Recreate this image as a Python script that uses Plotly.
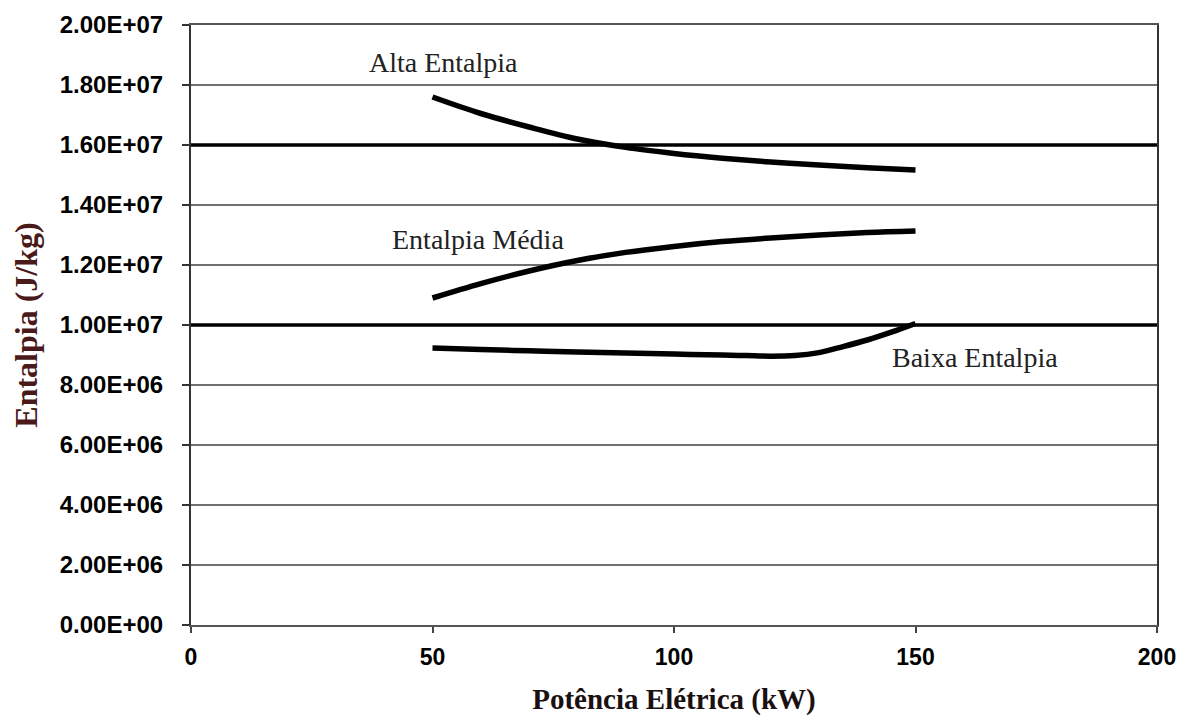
import plotly.graph_objects as go

# ---- data ----
x_alta = [50, 60, 70, 80, 90, 100, 110, 120, 130, 140, 150]
y_alta = [17.6e6, 17.05e6, 16.6e6, 16.2e6, 15.92e6, 15.72e6, 15.56e6, 15.43e6, 15.33e6, 15.24e6, 15.17e6]

x_media = [50, 60, 70, 80, 90, 100, 110, 120, 130, 140, 150]
y_media = [10.9e6, 11.38e6, 11.8e6, 12.15e6, 12.42e6, 12.62e6, 12.78e6, 12.9e6, 13.0e6, 13.08e6, 13.13e6]

x_baixa = [50, 60, 70, 80, 90, 100, 110, 115, 120, 125, 130, 135, 140, 145, 150]
y_baixa = [9.23e6, 9.18e6, 9.14e6, 9.1e6, 9.07e6, 9.03e6, 9.0e6, 8.98e6, 8.96e6, 8.98e6, 9.08e6, 9.28e6, 9.5e6, 9.76e6, 10.05e6]

y_ticks = [0, 2e6, 4e6, 6e6, 8e6, 10e6, 12e6, 14e6, 16e6, 18e6, 20e6]
y_ticktext = [f"{v:.2E}" for v in y_ticks]
x_ticks = [0, 50, 100, 150, 200]
highlight_levels = [10e6, 16e6]

labels = [
    ("Alta Entalpia", 36.5, 18.75e6),
    ("Entalpia Média", 41.2, 12.85e6),
    ("Baixa Entalpia", 144.8, 8.92e6),
]

# ---- figure ----
fig = go.Figure()
for xs, ys in [(x_alta, y_alta), (x_media, y_media), (x_baixa, y_baixa)]:
    fig.add_trace(go.Scatter(x=xs, y=ys, mode="lines",
                             line=dict(color="black", width=5.5, shape="spline"),
                             showlegend=False, hoverinfo="skip"))

for lvl in highlight_levels:
    fig.add_shape(type="line", xref="paper", x0=0, x1=1, yref="y", y0=lvl, y1=lvl,
                  line=dict(color="black", width=3.5), layer="above")

for text, lx, ly in labels:
    fig.add_annotation(x=lx, y=ly, text=text, showarrow=False, xanchor="left",
                       font=dict(family="Liberation Serif", size=28, color="#222222"))

fig.update_layout(
    width=1172, height=708,
    margin=dict(l=183, r=23, t=17, b=91, autoexpand=False),
    paper_bgcolor="white", plot_bgcolor="white",
    xaxis=dict(range=[0, 200], tickvals=x_ticks, ticks="outside", ticklen=6,
               tickcolor="#444444", tickwidth=2, ticklabelstandoff=4, automargin=False,
               showgrid=False, zeroline=False, showline=True, linecolor="#555555",
               linewidth=2, mirror=True,
               tickfont=dict(family="Liberation Sans", size=23, color="black", weight="bold"),
               title=dict(text="Potência Elétrica (kW)", standoff=32,
                          font=dict(family="Liberation Serif", size=29, color="#1a1010",
                                    weight="bold"))),
    yaxis=dict(range=[0, 20e6], tickvals=y_ticks, ticktext=y_ticktext, ticks="outside",
               ticklen=7, tickcolor="#333333", tickwidth=2, ticklabelstandoff=14,
               automargin=False,
               showgrid=True, gridcolor="#707070", gridwidth=2.2,
               zeroline=False, showline=True, linecolor="#333333", linewidth=2, mirror=True,
               tickfont=dict(family="Liberation Sans", size=24, color="black", weight="bold"),
               title=dict(text="Entalpia (J/kg)", standoff=20,
                          font=dict(family="Liberation Serif", size=32, color="#4a1a1a",
                                    weight="bold"))),
)

fig.write_html("out.html")
